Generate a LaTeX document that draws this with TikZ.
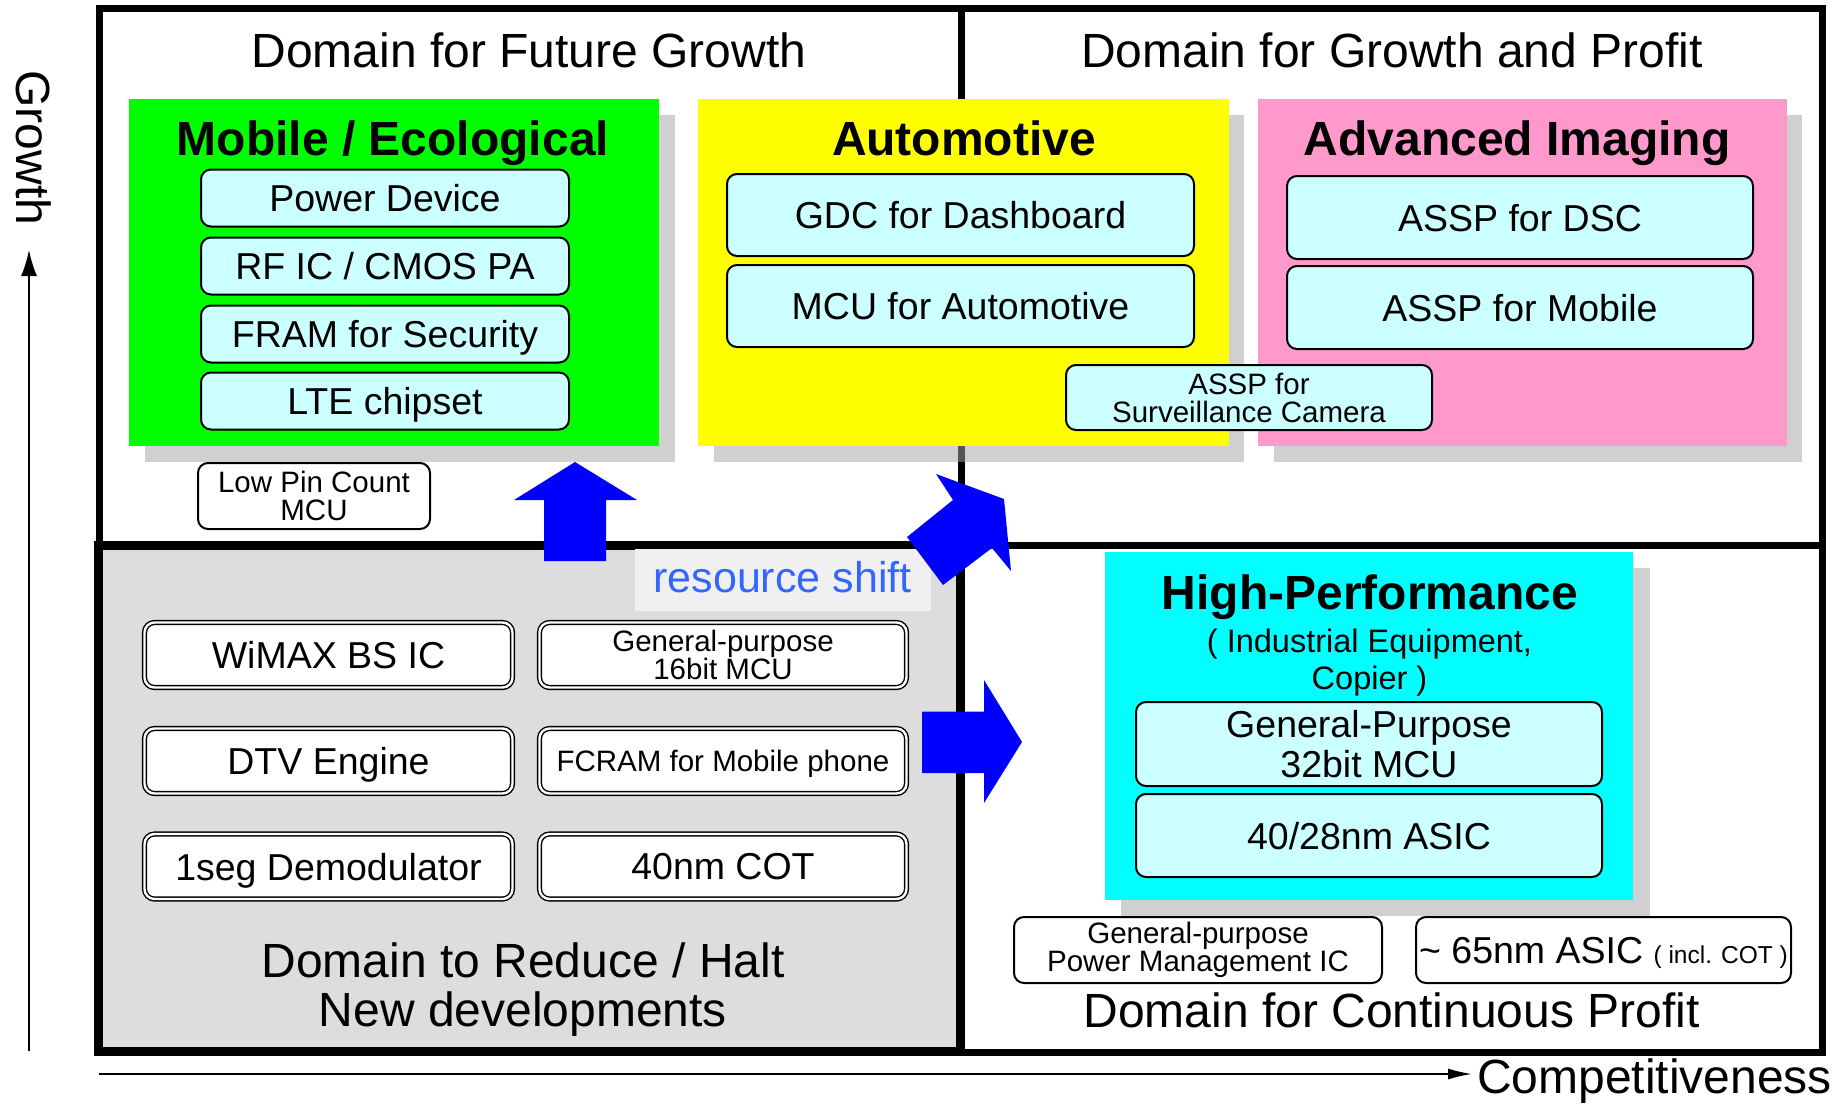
\documentclass[tikz,border=0pt]{standalone}
\usepackage{fontspec}
\setmainfont{Liberation Sans}
\usetikzlibrary{arrows.meta}

\definecolor{ecogreen}{RGB}{0,255,0}
\definecolor{autoyellow}{RGB}{255,255,0}
\definecolor{imgpink}{RGB}{255,153,204}
\definecolor{perfcyan}{RGB}{0,255,255}
\definecolor{itemcyan}{RGB}{204,255,255}
\definecolor{haltgray}{RGB}{221,221,221}
\definecolor{shiftgray}{RGB}{240,240,240}
\definecolor{shiftblue}{RGB}{51,102,255}
\definecolor{shadowgray}{RGB}{164,164,164}

\tikzset{
	domaintext/.style={inner sep=0pt, align=center, font=\fontsize{48}{49}\selectfont},
	fieldtitle/.style={inner sep=0pt, font=\bfseries\fontsize{48}{49}\selectfont},
	itembox/.style={draw, line width=2pt, rounded corners=10pt, fill=itemcyan, inner sep=0pt, align=center, font=\fontsize{37.5}{40}\selectfont},
	smallbox/.style={itembox, font=\fontsize{29.5}{28}\selectfont},
	oldbox/.style={draw, double, double distance=2.4pt, line width=1.4pt, rounded corners=10pt, fill=white, inner sep=0pt, align=center, font=\fontsize{37.5}{40}\selectfont},
	oneline/.style={text depth=0pt},
	shadebox/.style={fill=shadowgray, fill opacity=0.52},
	shiftarrow/.style={fill=blue, draw=none},
	axisline/.style={line width=1.8pt},
}

\begin{document}
\begin{tikzpicture}[x=10pt, y=-10pt]
		%%%%% START %%%%%
		\useasboundingbox (0, 0) rectangle (184.4, 110.5);
		
		% quadrants
		\draw[line width=7pt] (9.9, 0.9) rectangle (182.2, 105.2);
		\draw[line width=7pt] (96.1, 0.9) -- (96.1, 105.2);
		\draw[line width=7pt] (9.9, 54.5) -- (182.2, 54.5);
		
		\fill[shadebox] (14.5, 11.5) rectangle (67.5, 46.2);
		\fill[shadebox] (71.4, 11.5) rectangle (124.4, 46.2);
		\fill[shadebox] (127.4, 11.5) rectangle (180.2, 46.2);
		\fill[shadebox] (112.1, 56.8) rectangle (165.0, 91.6);
		
		\fill[ecogreen] (12.9, 9.9) rectangle (65.9, 44.6);
		\fill[autoyellow] (69.8, 9.9) rectangle (122.9, 44.6);
		\fill[imgpink] (125.8, 9.9) rectangle (178.7, 44.6);
		\fill[perfcyan] (110.5, 55.2) rectangle (163.3, 90.0);
		
		\draw[line width=9pt, fill=haltgray] (9.85, 54.55) rectangle (96.05, 105.15);
		
		\node[domaintext, anchor=base] (tfuture) at (52.9, 6.8) {Domain for Future Growth};
		\node[domaintext, anchor=base] (tprofit) at (139.2, 6.8) {Domain for Growth and Profit};
		\node[domaintext] (thalt) at (52.3, 99.0) {Domain to Reduce / Halt\\New developments};
		\node[domaintext, anchor=base] (tcontinuous) at (139.15, 102.7) {Domain for Continuous Profit};
		
		% growth fields
		\node[fieldtitle, anchor=base] (tmobile) at (39.3, 15.5) {Mobile / Ecological};
		\node[itembox, oneline, minimum width=368pt, minimum height=57pt] (power) at (38.5, 19.8) {Power Device};
		\node[itembox, oneline, minimum width=368pt, minimum height=57pt] (rfic) at (38.5, 26.6) {RF IC / CMOS PA};
		\node[itembox, oneline, minimum width=368pt, minimum height=57pt] (fram) at (38.5, 33.4) {FRAM for Security};
		\node[itembox, oneline, minimum width=368pt, minimum height=57pt] (lte) at (38.5, 40.1) {LTE chipset};
		\node[smallbox, fill=white, minimum width=232pt, minimum height=66pt] (lowpin) at (31.4, 49.6) {Low Pin Count\\MCU};
		
		\node[fieldtitle, anchor=base] (tauto) at (96.4, 15.5) {Automotive};
		\node[itembox, oneline, minimum width=467pt, minimum height=82pt] (gdc) at (96.05, 21.5) {GDC for Dashboard};
		\node[itembox, oneline, minimum width=467pt, minimum height=82pt] (mcuauto) at (96.05, 30.6) {MCU for Automotive};
		
		\node[fieldtitle, anchor=base] (timaging) at (151.7, 15.5) {Advanced Imaging};
		\node[itembox, oneline, minimum width=466pt, minimum height=83pt] (dsc) at (152.0, 21.75) {ASSP for DSC};
		\node[itembox, oneline, minimum width=466pt, minimum height=83pt] (asspmobile) at (152.0, 30.75) {ASSP for Mobile};
		\node[smallbox, minimum width=366pt, minimum height=65pt] (surveil) at (124.9, 39.75) {ASSP for\\Surveillance Camera};
		
		% reduce / halt
		\node[oldbox, oneline, minimum width=368pt, minimum height=65pt] (wimax) at (32.85, 65.5) {WiMAX BS IC};
		\node[oldbox, font=\fontsize{29.5}{28}\selectfont, minimum width=367pt, minimum height=65pt] (gp16) at (72.3, 65.5) {General-purpose\\16bit MCU};
		\node[oldbox, oneline, minimum width=368pt, minimum height=65pt] (dtv) at (32.85, 76.1) {DTV Engine};
		\node[oldbox, oneline, font=\fontsize{29.5}{28}\selectfont, minimum width=367pt, minimum height=65pt] (fcram) at (72.3, 76.1) {FCRAM for Mobile phone};
		\node[oldbox, oneline, minimum width=368pt, minimum height=65pt] (oneseg) at (32.85, 86.65) {1seg Demodulator};
		\node[oldbox, oneline, minimum width=367pt, minimum height=65pt] (cot40) at (72.3, 86.65) {40nm COT};
		
		% continuous profit
		\node[fieldtitle, anchor=base] (thigh) at (137.0, 60.9) {High-Performance};
		\node[inner sep=0pt, align=center, font=\fontsize{32.5}{37}\selectfont] (tindustry) at (136.95, 66.25) {( Industrial Equipment,\\Copier )};
		\node[itembox, minimum width=466pt, minimum height=84pt] (gp32) at (136.9, 74.4) {General-Purpose\\32bit MCU};
		\node[itembox, oneline, minimum width=466pt, minimum height=83pt] (asic4028) at (136.9, 83.55) {40/28nm ASIC};
		\node[smallbox, fill=white, minimum width=368pt, minimum height=66pt] (gppm) at (119.8, 95.0) {General-purpose\\Power Management IC};
		\node[itembox, oneline, fill=white, minimum width=375pt, minimum height=66pt] (asic65) at (160.35, 95.0) {\textasciitilde\ 65nm ASIC {\fontsize{24.5}{26}\selectfont ( incl. COT )}};
		
		% resource shift
		\fill[shiftgray] (63.5, 54.9) rectangle (93.1, 61.1);
		\node[inner sep=0pt, anchor=base, text=shiftblue, font=\fontsize{43}{44}\selectfont] (tshift) at (78.25, 59.27) {resource shift};
		
		\fill[shiftarrow] (57.5, 46.2) -- (63.7, 50.0) -- (60.6, 50.0) -- (60.6, 56.1) -- (54.4, 56.1) -- (54.4, 50.0) -- (51.4, 50.0) -- cycle;
		\fill[shiftarrow] (100.4, 49.9) -- (93.6, 47.4) -- (95.3, 50.0) -- (90.7, 53.7) -- (94.3, 58.5) -- (99.2, 54.8) -- (101.1, 57.1) -- cycle;
		\fill[shiftarrow] (92.2, 71.15) -- (98.4, 71.15) -- (98.4, 68.0) -- (102.2, 74.2) -- (98.4, 80.3) -- (98.4, 77.3) -- (92.2, 77.3) -- cycle;
		
		% axes
		\coordinate (gbottom) at (2.9, 105.1);
		\coordinate (gtop) at (2.9, 25.0);
		\draw[axisline, -{Latex[length=26pt, width=16pt]}] (gbottom) -- (gtop);
		\node[domaintext, rotate=-90] (tgrowth) at (3.4, 14.8) {Growth};
		
		\coordinate (cleft) at (9.9, 107.4);
		\coordinate (cright) at (147.2, 107.4);
		\draw[axisline, -{Latex[length=24pt, width=11pt]}] (cleft) -- (cright);
		\node[domaintext, anchor=base west] (tcompete) at (147.7, 109.3) {Competitiveness};
		
		%%%%% END %%%%%
	\end{tikzpicture}
\end{document}
